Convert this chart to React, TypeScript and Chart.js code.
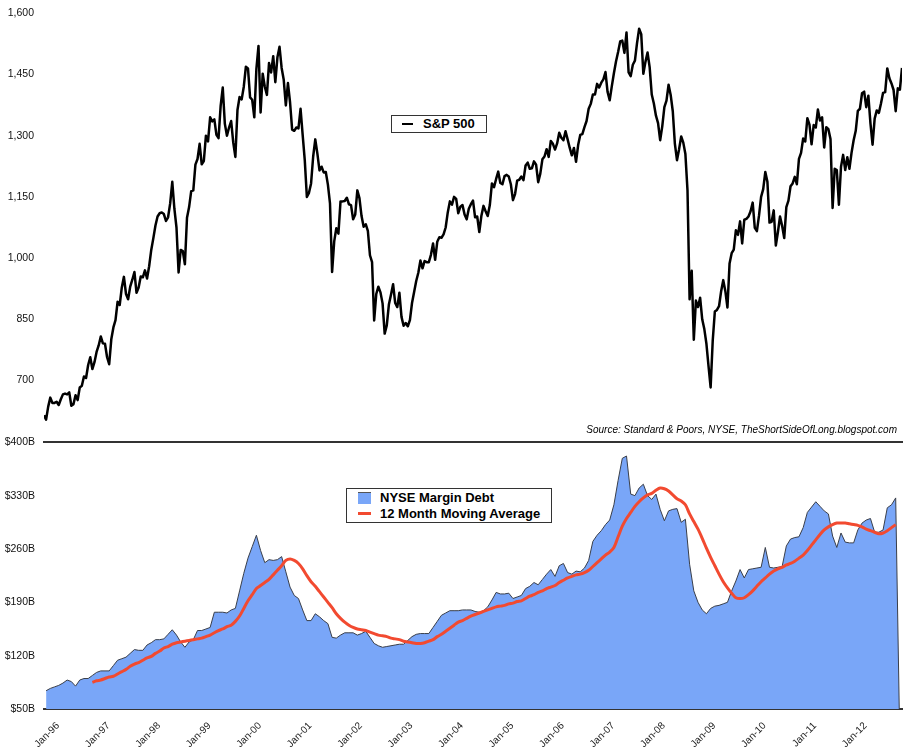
import React, { useEffect, useRef } from "react";
import { Chart, registerables } from "chart.js";

Chart.register(...registerables);

const FONT = '"Liberation Sans", Arial, sans-serif';

// X axis: months since Jan 1996
const xTickLabels = [
  "Jan-96", "Jan-97", "Jan-98", "Jan-99", "Jan-00", "Jan-01", "Jan-02", "Jan-03", "Jan-04",
  "Jan-05", "Jan-06", "Jan-07", "Jan-08", "Jan-09", "Jan-10", "Jan-11", "Jan-12",
];

// S&P 500, two readings per month (mid-month, month-end)
const spxStart = 615;
const spx1996 = [604, 636, 658, 645, 645, 648, 640, 654, 666, 668, 666, 671, 638, 642, 664, 652, 683, 687, 710, 706, 738, 757, 728, 745];
const spx1997 = [770, 786, 808, 791, 790, 757, 740, 801, 830, 848, 893, 885, 928, 954, 912, 899, 930, 947, 966, 915, 928, 955, 953, 970];
const spx1998 = [950, 980, 1020, 1049, 1080, 1102, 1110, 1112, 1108, 1091, 1100, 1134, 1187, 1121, 1075, 965, 1020, 1017, 985, 1099, 1125, 1164, 1166, 1229];
const spx1999 = [1243, 1280, 1230, 1238, 1300, 1286, 1345, 1335, 1340, 1302, 1294, 1373, 1418, 1329, 1300, 1320, 1336, 1283, 1248, 1363, 1395, 1389, 1420, 1469];
const spx2000 = [1465, 1394, 1388, 1345, 1464, 1520, 1357, 1452, 1420, 1400, 1478, 1455, 1495, 1431, 1492, 1518, 1466, 1437, 1374, 1429, 1382, 1315, 1312, 1320];
const spx2001 = [1318, 1366, 1302, 1240, 1150, 1160, 1183, 1249, 1291, 1256, 1215, 1224, 1210, 1211, 1180, 1134, 966, 1041, 1073, 1060, 1139, 1139, 1140, 1148];
const spx2002 = [1132, 1130, 1095, 1107, 1166, 1147, 1103, 1077, 1083, 1067, 1007, 990, 847, 912, 930, 916, 889, 815, 835, 886, 910, 936, 890, 880];
const spx2003 = [915, 856, 834, 841, 833, 848, 890, 917, 944, 964, 994, 975, 993, 990, 990, 1008, 1036, 996, 1040, 1051, 1050, 1058, 1075, 1112];
const spx2004 = [1139, 1131, 1150, 1145, 1110, 1126, 1130, 1107, 1095, 1121, 1132, 1141, 1100, 1102, 1064, 1104, 1128, 1115, 1103, 1130, 1183, 1174, 1194, 1212];
const spx2005 = [1184, 1181, 1201, 1204, 1200, 1181, 1142, 1157, 1190, 1192, 1200, 1191, 1227, 1234, 1219, 1220, 1237, 1229, 1186, 1207, 1242, 1249, 1267, 1248];
const spx2006 = [1287, 1280, 1266, 1281, 1307, 1295, 1289, 1311, 1291, 1270, 1252, 1270, 1236, 1277, 1302, 1304, 1321, 1336, 1366, 1378, 1401, 1401, 1427, 1418];
const spx2007 = [1430, 1438, 1456, 1407, 1387, 1421, 1453, 1482, 1505, 1531, 1533, 1503, 1553, 1455, 1446, 1474, 1484, 1527, 1562, 1549, 1452, 1481, 1504, 1468];
const spx2008 = [1401, 1379, 1349, 1331, 1289, 1323, 1370, 1386, 1425, 1400, 1360, 1280, 1240, 1267, 1298, 1283, 1255, 1166, 899, 969, 800, 896, 880, 903];
const spx2009 = [850, 826, 790, 735, 683, 798, 869, 873, 882, 919, 946, 919, 879, 987, 1012, 1021, 1068, 1057, 1090, 1036, 1094, 1096, 1102, 1115];
const spx2010 = [1136, 1074, 1066, 1104, 1150, 1169, 1211, 1187, 1087, 1089, 1117, 1031, 1064, 1102, 1079, 1049, 1125, 1141, 1176, 1183, 1199, 1181, 1243, 1258];
const spx2011 = [1293, 1286, 1343, 1327, 1279, 1326, 1320, 1364, 1337, 1345, 1271, 1321, 1316, 1292, 1123, 1219, 1216, 1131, 1224, 1253, 1216, 1247, 1219, 1258];
const spx2012 = [1289, 1312, 1361, 1366, 1404, 1408, 1370, 1398, 1330, 1278, 1342, 1362, 1356, 1379, 1405, 1407, 1465, 1441, 1428, 1412, 1360, 1416, 1413, 1466];

// NYSE margin debt, $B, monthly
const md1996 = [74, 77, 79, 81, 84, 88, 86, 80, 88, 90, 90, 94];
const md1997 = [98, 100, 100, 100, 107, 114, 116, 118, 123, 128, 127, 127];
const md1998 = [134, 137, 141, 141, 142, 148, 154, 147, 138, 131, 138, 141];
const md1999 = [153, 153, 155, 157, 177, 177, 177, 176, 180, 182, 205, 228];
const md2000 = [248, 263, 278, 258, 242, 246, 245, 246, 250, 230, 210, 199];
const md2001 = [195, 180, 166, 166, 175, 171, 166, 162, 144, 143, 147, 150];
const md2002 = [150, 150, 147, 149, 152, 144, 136, 133, 131, 132, 133, 134];
const md2003 = [135, 135, 140, 145, 148, 149, 149, 149, 157, 165, 173, 176];
const md2004 = [179, 179, 179, 180, 180, 180, 178, 177, 179, 184, 193, 203];
const md2005 = [201, 201, 202, 195, 197, 199, 208, 211, 216, 213, 220, 227];
const md2006 = [233, 224, 238, 241, 229, 227, 231, 230, 235, 245, 270, 278];
const md2007 = [284, 292, 298, 318, 350, 379, 382, 332, 330, 340, 345, 330];
const md2008 = [325, 332, 312, 297, 310, 312, 313, 295, 299, 240, 205, 190];
const md2009 = [180, 175, 182, 185, 186, 188, 190, 205, 218, 233, 222, 233];
const md2010 = [234, 235, 236, 262, 236, 235, 236, 237, 264, 273, 275, 276];
const md2011 = [288, 308, 315, 322, 316, 310, 306, 277, 262, 281, 269, 268];
const md2012 = [268, 285, 294, 298, 300, 282, 282, 285, 314, 318, 327, 0];

// 12 month moving average, $B, monthly
const N = null;
const ma1996 = [N, N, N, N, N, N, N, N, N, N, N, 85];
const ma1997 = [87, 88, 90, 92, 93, 96, 99, 102, 106, 109, 111, 114];
const ma1998 = [117, 119, 123, 126, 130, 132, 135, 137, 138, 139, 140, 141];
const ma1999 = [142, 143, 145, 147, 150, 153, 155, 158, 160, 165, 172, 182];
const ma2000 = [192, 200, 208, 212, 216, 220, 226, 232, 238, 245, 247, 245];
const ma2001 = [241, 234, 225, 217, 211, 204, 197, 190, 183, 175, 169, 164];
const ma2002 = [160, 157, 155, 154, 153, 151, 149, 147, 146, 145, 143, 142];
const ma2003 = [141, 139, 138, 137, 136, 136, 137, 139, 141, 145, 148, 152];
const ma2004 = [156, 160, 164, 166, 169, 172, 174, 176, 178, 180, 182, 184];
const ma2005 = [185, 186, 188, 189, 191, 192, 195, 198, 200, 203, 205, 208];
const ma2006 = [210, 212, 216, 219, 222, 224, 226, 227, 229, 232, 237, 242];
const ma2007 = [247, 252, 256, 262, 276, 290, 300, 308, 316, 322, 327, 331];
const ma2008 = [333, 337, 340, 339, 336, 331, 326, 323, 318, 306, 296, 286];
const ma2009 = [274, 261, 249, 238, 227, 217, 209, 202, 196, 195, 196, 200];
const ma2010 = [205, 211, 217, 222, 227, 231, 234, 236, 239, 241, 244, 248];
const ma2011 = [252, 258, 265, 272, 279, 285, 289, 292, 294, 294, 294, 293];
const ma2012 = [292, 291, 289, 286, 284, 282, 280, 281, 284, 288, 292, N];

const spxTicks = [550, 700, 850, 1000, 1150, 1300, 1450, 1600];
const mdTicks = [50, 120, 190, 260, 330, 400];

const spxSeries = [
  spxStart, ...spx1996, ...spx1997, ...spx1998, ...spx1999, ...spx2000, ...spx2001, ...spx2002, ...spx2003,
  ...spx2004, ...spx2005, ...spx2006, ...spx2007, ...spx2008, ...spx2009, ...spx2010, ...spx2011, ...spx2012,
];
const marginDebt = [
  ...md1996, ...md1997, ...md1998, ...md1999, ...md2000, ...md2001, ...md2002, ...md2003, ...md2004,
  ...md2005, ...md2006, ...md2007, ...md2008, ...md2009, ...md2010, ...md2011, ...md2012,
];
const movingAvg = [
  ...ma1996, ...ma1997, ...ma1998, ...ma1999, ...ma2000, ...ma2001, ...ma2002, ...ma2003, ...ma2004,
  ...ma2005, ...ma2006, ...ma2007, ...ma2008, ...ma2009, ...ma2010, ...ma2011, ...ma2012,
];

const AREA_BLUE = "#79A6F8";
const MA_RED = "#F24A30";

function fixedWidth(w: number) {
  return (scale: any) => {
    scale.width = w;
  };
}
function fixedHeight(h: number) {
  return (scale: any) => {
    scale.height = h;
  };
}

export default function App() {
  const topRef = useRef<HTMLCanvasElement>(null);
  const botRef = useRef<HTMLCanvasElement>(null);

  useEffect(() => {
    const tickFont = { family: FONT, size: 10.5 };
    const spxPts = spxSeries.map((v, i) => ({ x: i / 2, y: v }));
    const mdPts = marginDebt.map((v, i) => ({ x: i + 0.5, y: v }));
    const maPts = movingAvg.map((v, i) => ({ x: i + 0.5, y: v }));

    const top = new Chart(topRef.current as HTMLCanvasElement, {
      type: "line",
      data: {
        datasets: [
          {
            label: "S&P 500",
            data: spxPts as any,
            borderColor: "#000",
            borderWidth: 2.5,
            pointRadius: 0,
            tension: 0,
            fill: false,
            borderJoinStyle: "round",
          },
        ],
      },
      options: {
        responsive: false,
        animation: false,
        devicePixelRatio: 1,
        layout: { padding: { left: 0, right: 7, top: 9, bottom: 0 } },
        plugins: { legend: { display: false }, tooltip: { enabled: false } },
        scales: {
          x: {
            type: "linear",
            min: 0,
            max: 204,
            grid: { display: false, drawTicks: false },
            border: { display: true, color: "#333", width: 2 },
            ticks: { display: false },
            afterFit: fixedHeight(5),
          },
          y: {
            min: spxTicks[0],
            max: spxTicks[spxTicks.length - 1],
            grid: { display: false, drawTicks: false },
            border: { display: false },
            afterBuildTicks: (scale: any) => {
              scale.ticks = spxTicks.map((v) => ({ value: v }));
            },
            ticks: {
              font: tickFont,
              color: "#111",
              padding: 10,
              callback: (v: any) => (v === spxTicks[0] ? "" : Number(v).toLocaleString("en-US")),
            },
            afterFit: fixedWidth(44),
          },
        },
      },
    });

    const bot = new Chart(botRef.current as HTMLCanvasElement, {
      type: "line",
      data: {
        datasets: [
          {
            label: "12 Month Moving Average",
            data: maPts as any,
            borderColor: MA_RED,
            borderWidth: 3,
            pointRadius: 0,
            tension: 0.3,
            fill: false,
            spanGaps: false,
            order: 0,
          },
          {
            label: "NYSE Margin Debt",
            data: mdPts as any,
            borderColor: "#3a3f4a",
            backgroundColor: AREA_BLUE,
            borderWidth: 1,
            pointRadius: 0,
            tension: 0,
            fill: "start",
            order: 1,
          },
        ],
      },
      options: {
        responsive: false,
        animation: false,
        devicePixelRatio: 1,
        layout: { padding: { left: 0, right: 7, top: 8, bottom: 0 } },
        plugins: { legend: { display: false }, tooltip: { enabled: false } },
        scales: {
          x: {
            type: "linear",
            min: 0,
            max: 204,
            grid: { display: false, drawTicks: false },
            border: { display: true, color: "#333", width: 2 },
            afterBuildTicks: (scale: any) => {
              scale.ticks = xTickLabels.map((_, i) => ({ value: i * 12 }));
            },
            ticks: {
              font: { family: FONT, size: 10 },
              color: "#222",
              autoSkip: false,
              minRotation: 45,
              maxRotation: 45,
              padding: 11,
              labelOffset: 14,
              callback: (v: any) => xTickLabels[Math.round(Number(v) / 12)] ?? "",
            },
            afterFit: fixedHeight(47),
          },
          y: {
            min: mdTicks[0],
            max: mdTicks[mdTicks.length - 1],
            grid: { display: false, drawTicks: false },
            border: { display: false },
            afterBuildTicks: (scale: any) => {
              scale.ticks = mdTicks.map((v) => ({ value: v }));
            },
            ticks: {
              font: tickFont,
              color: "#111",
              padding: 9,
              callback: (v: any) => "$" + v + "B",
            },
            afterFit: fixedWidth(44),
          },
        },
      },
    });

    return () => {
      top.destroy();
      bot.destroy();
    };
  }, []);

  const legendText: React.CSSProperties = {
    position: "absolute",
    fontFamily: FONT,
    fontWeight: "bold",
    fontSize: 13,
    lineHeight: "15px",
    color: "#000",
    whiteSpace: "nowrap",
  };

  return (
    <div style={{ position: "absolute", left: 0, top: 0, width: 909, height: 756, background: "#fff", overflow: "hidden" }}>
      <canvas ref={topRef} width={909} height={461} style={{ position: "absolute", left: 0, top: -3 }} />
      <canvas ref={botRef} width={909} height={329} style={{ position: "absolute", left: 0, top: 427 }} />

      {/* S&P legend */}
      <div style={{ position: "absolute", left: 391, top: 115, width: 94, height: 16, border: "1px solid #333", background: "#fff" }}>
        <div style={{ position: "absolute", left: 10, top: 7, width: 11, height: 2, background: "#000" }} />
        <div style={{ ...legendText, left: 31, top: 0 }}>S&amp;P 500</div>
      </div>

      {/* Margin debt legend */}
      <div style={{ position: "absolute", left: 346, top: 488, width: 204, height: 33, border: "1px solid #333", background: "#fff" }}>
        <div style={{ position: "absolute", left: 11, top: 3, width: 13, height: 12, background: AREA_BLUE, borderTop: "1px solid #555", boxSizing: "border-box" }} />
        <div style={{ ...legendText, left: 33, top: 1 }}>NYSE Margin Debt</div>
        <div style={{ position: "absolute", left: 11, top: 23, width: 13, height: 3, background: MA_RED }} />
        <div style={{ ...legendText, left: 33, top: 17 }}>12 Month Moving Average</div>
      </div>

      <div
        style={{
          position: "absolute",
          right: 12,
          top: 424,
          fontFamily: FONT,
          fontStyle: "italic",
          fontSize: 10,
          lineHeight: "12px",
          color: "#000",
          whiteSpace: "nowrap",
        }}
      >
        Source: Standard &amp; Poors, NYSE, TheShortSideOfLong.blogspot.com
      </div>
    </div>
  );
}
